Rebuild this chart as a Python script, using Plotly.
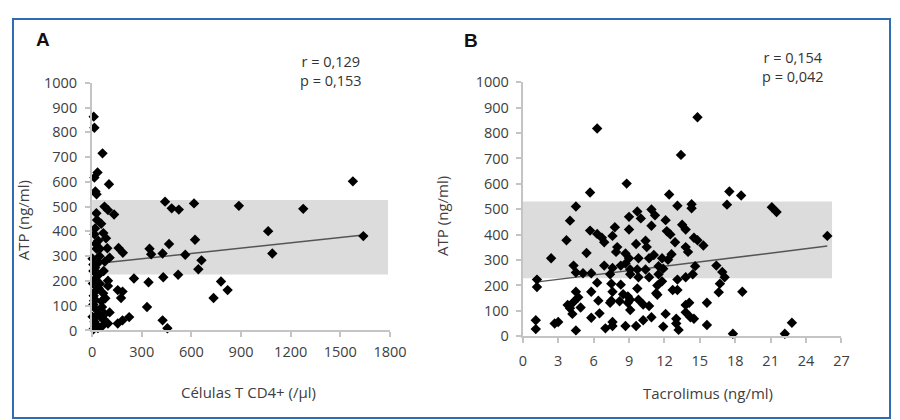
import plotly.graph_objects as go

# ---------------- Data: panel A (CD4+ T cells vs ATP) ----------------
cd4 = [
    10, 14, 63, 33, 14, 102, 20, 27, 75, 96,
    133, 26, 30, 55, 18, 14, 68, 84, 37, 27,
    47, 92, 160, 186, 106, 77, 8, 18, 8, 37,
    18, 96, 47, 18, 96, 253, 341, 155, 184, 175,
    18, 67, 18, 57, 8, 47, 106, 27, 67, 96,
    155, 184, 224, 8, 57, 332, 27, 77, 347, 357,
    426, 441, 481, 524, 616, 465, 563, 622, 661, 642,
    430, 520, 426, 455, 1576, 887, 1276, 1064, 1639, 1089,
    779, 819, 734, 5, 40, 10, 60, 25, 3, 12,
    30, 45, 3, 15, 35, 50, 70, 80, 40, 22,
]
atp_a = [
    863, 818, 715, 638, 617, 590, 561, 550, 500, 486,
    468, 473, 446, 431, 412, 388, 393, 372, 362, 330,
    330, 332, 333, 314, 294, 278, 266, 253, 240, 223,
    208, 201, 189, 182, 180, 210, 195, 163, 157, 131,
    157, 150, 124, 118, 105, 82, 73, 60, 47, 28,
    28, 41, 54, 5, 15, 95, 22, 67, 330, 308,
    311, 520, 493, 488, 513, 349, 306, 366, 283, 247,
    215, 225, 41, 9, 602, 503, 491, 401, 381, 311,
    198, 163, 131, 190, 170, 140, 95, 85, 290, 120,
    232, 300, 55, 35, 10, 55, 240, 130, 275, 350,
]
trend_a_x = [0, 1640]
trend_a_y = [268, 385]
band_a_x = [0, 1788]
band_a_y = [226, 527]

# ---------------- Data: panel B (Tacrolimus vs ATP) ----------------
tac = [
    8.8, 5.7, 4.5, 4.0, 3.7, 2.4, 5.4, 5.7, 6.3, 6.7,
    6.9, 7.8, 7.6, 9.0, 9.0, 9.7, 10.0, 10.9, 11.2, 10.9,
    9.6, 10.4, 10.5, 8.0, 8.7, 7.9, 9.0, 9.8, 10.7, 4.3,
    4.5, 5.1, 5.8, 6.9, 7.4, 7.6, 8.3, 8.7, 9.1, 9.1,
    9.7, 10.4, 9.8, 10.7, 11.5, 11.5, 1.2, 1.2, 6.3, 7.5,
    8.3, 4.5, 4.7, 4.3, 3.8, 4.0, 4.9, 4.2, 5.8, 6.4,
    5.8, 6.5, 7.6, 7.5, 7.4, 8.2, 8.5, 8.9, 8.9, 9.1,
    9.1, 9.7, 9.8, 10.2, 10.7, 10.9, 11.3, 1.1, 1.1, 2.7,
    3.0, 4.5, 7.0, 7.6, 7.6, 8.7, 9.6, 10.2,
    12.4, 13.1, 14.3, 14.3, 17.5, 18.5, 17.3, 21.1, 21.5, 25.8,
    12.1, 12.2, 12.5, 13.5, 13.8, 12.9, 14.5, 14.8, 15.3,
    13.8, 14.0, 12.6, 11.8, 11.1, 12.3, 11.9, 14.6, 16.4,
    16.9, 17.1, 16.7, 16.6, 18.6, 14.4, 13.8, 13.1, 11.8, 11.4,
    11.4, 13.1, 12.7, 14.1, 13.8, 15.6, 13.8, 14.2, 14.5, 12.1,
    13.0, 13.0, 11.9, 13.2, 15.6, 17.8, 22.2, 22.8,
    6.3, 13.4, 14.8,
]
atp_b = [
    601, 566, 511, 455, 378, 307, 328, 416, 403, 388,
    370, 429, 395, 420, 470, 491, 464, 499, 476, 435,
    363, 376, 351, 351, 326, 332, 307, 307, 307, 278,
    251, 248, 248, 278, 244, 269, 278, 286, 263, 244,
    263, 263, 232, 232, 244, 276, 223, 194, 211, 207,
    203, 175, 153, 135, 123, 110, 113, 88, 175, 140,
    73, 90, 175, 140, 132, 138, 165, 157, 132, 144,
    103, 188, 144, 125, 119, 75, 169, 63, 28, 50,
    56, 23, 31, 40, 56, 40, 40, 63,
    558, 514, 520, 504, 570, 554, 518, 508, 489, 395,
    457, 414, 401, 439, 420, 370, 388, 378, 357,
    351, 332, 323, 307, 320, 301, 266, 276, 278,
    253, 232, 207, 173, 175, 244, 232, 223, 216, 200,
    163, 182, 182, 132, 123, 132, 94, 75, 69, 88,
    69, 50, 38, 25, 44, 10, 10, 53,
    818, 714, 862,
]
trend_b_x = [1.1, 25.8]
trend_b_y = [213, 355]
band_b_x = [0, 26.2]
band_b_y = [228, 530]

x_ticks_a = [0, 300, 600, 900, 1200, 1500, 1800]
x_ticks_b = [0, 3, 6, 9, 12, 15, 18, 21, 24, 27]
y_ticks = [0, 100, 200, 300, 400, 500, 600, 700, 800, 900, 1000]

W, H = 900, 420
FONT = "Open Sans"
TXT = "#404040"
AXC = "#c4c4c4"

fig = go.Figure()

marker = dict(symbol="diamond", size=8, color="black", line=dict(width=0))

fig.add_trace(go.Scatter(x=trend_a_x, y=trend_a_y, mode="lines",
                         line=dict(color="#555555", width=1.5),
                         xaxis="x", yaxis="y", showlegend=False, hoverinfo="skip"))
fig.add_trace(go.Scatter(x=cd4, y=atp_a, mode="markers", marker=marker,
                         xaxis="x", yaxis="y", showlegend=False, cliponaxis=False))
fig.add_trace(go.Scatter(x=trend_b_x, y=trend_b_y, mode="lines",
                         line=dict(color="#555555", width=1.5),
                         xaxis="x2", yaxis="y2", showlegend=False, hoverinfo="skip"))
fig.add_trace(go.Scatter(x=tac, y=atp_b, mode="markers", marker=marker,
                         xaxis="x2", yaxis="y2", showlegend=False, cliponaxis=False))


def px_x(p):
    return p / W


def px_y(p):
    return 1 - p / H


axis_common = dict(showgrid=False, zeroline=False, showline=True, linecolor=AXC,
                   linewidth=2, ticks="outside", ticklen=5, tickwidth=1.5,
                   tickcolor=AXC, tickfont=dict(family=FONT, size=14.5, color=TXT),
                   fixedrange=True)

fig.update_layout(
    width=W, height=H,
    margin=dict(l=0, r=0, t=0, b=0),
    paper_bgcolor="white", plot_bgcolor="white",
    xaxis=dict(domain=[px_x(82), px_x(387)], range=[0, 1800], tickvals=x_ticks_a,
               anchor="y", ticklabelstandoff=2, **axis_common),
    yaxis=dict(domain=[px_y(327.3), px_y(67.8)], range=[0, 1000], tickvals=y_ticks,
               anchor="x", ticklabelstandoff=5, **axis_common),
    xaxis2=dict(domain=[px_x(523), px_x(849.3)], range=[0, 27], tickvals=x_ticks_b,
                anchor="y2", ticklabelstandoff=5, **axis_common),
    yaxis2=dict(domain=[px_y(333.3), px_y(67.3)], range=[0, 1000], tickvals=y_ticks,
                anchor="x2", ticklabelstandoff=4, **axis_common),
    shapes=[
        dict(type="rect", xref="x", yref="y", x0=band_a_x[0], x1=band_a_x[1],
             y0=band_a_y[0], y1=band_a_y[1], fillcolor="#dcdcdc",
             line=dict(width=0), layer="below"),
        dict(type="rect", xref="x2", yref="y2", x0=band_b_x[0], x1=band_b_x[1],
             y0=band_b_y[0], y1=band_b_y[1], fillcolor="#dcdcdc",
             line=dict(width=0), layer="below"),
        dict(type="rect", xref="paper", yref="paper", x0=1 / W, x1=1 - 1 / W,
             y0=1 / H, y1=1 - 1 / H, line=dict(color="#2f6cb3", width=2),
             fillcolor="rgba(0,0,0,0)", layer="above"),
    ],
)

ann = []


def add_text(text, x, y, size=15, color=TXT, family=FONT, angle=0):
    ann.append(dict(text=text, x=px_x(x), y=px_y(y), xref="paper", yref="paper",
                    showarrow=False, xanchor="center", yanchor="middle",
                    textangle=angle, font=dict(family=family, size=size, color=color)))


add_text("<b>A</b>", 32, 22, size=19, color="#111111", family="Liberation Sans")
add_text("<b>B</b>", 470, 24, size=19, color="#111111", family="Liberation Sans")
add_text("r = 0,129<br>p = 0,153", 327, 55.8, size=14.5, color="#333333")
add_text("r = 0,154<br>p = 0,042", 800, 51.6, size=14.5, color="#333333")
add_text("ATP (ng/ml)", 12, 212, size=15, angle=-90)
add_text("ATP (ng/ml)", 439.5, 207, size=15, angle=-90)
add_text("Células T CD4+ (/µl)", 242, 392, size=15)
add_text("Tacrolimus (ng/ml)", 712.7, 393, size=15)

fig.update_layout(annotations=ann)

fig.write_html("out.html")
